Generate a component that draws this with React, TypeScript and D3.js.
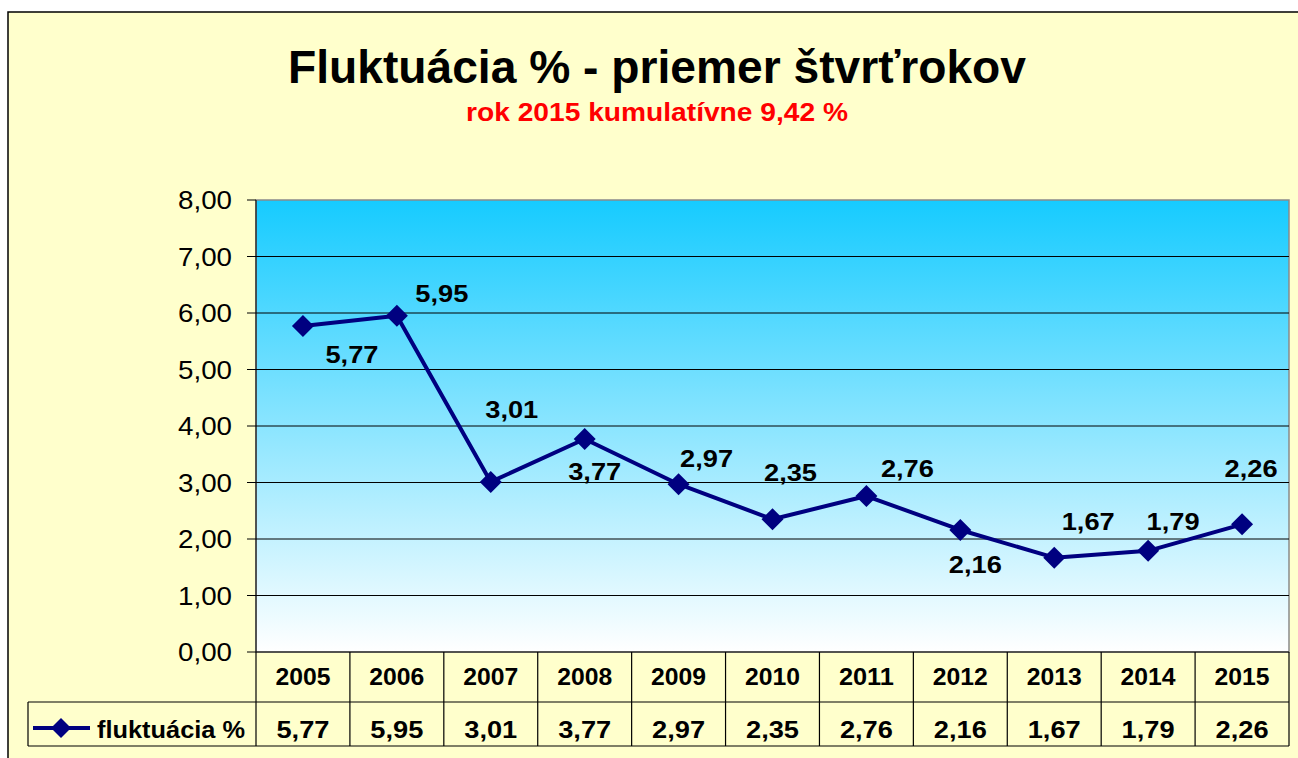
import * as d3 from "d3";

const years = ["2005", "2006", "2007", "2008", "2009", "2010", "2011", "2012", "2013", "2014", "2015"];
const fluktuacia = [5.77, 5.95, 3.01, 3.77, 2.97, 2.35, 2.76, 2.16, 1.67, 1.79, 2.26];
const yTicks = [0, 1, 2, 3, 4, 5, 6, 7, 8];
// manual data label placement (px offsets from the marker), as in the source workbook
const labelNudge: [number, number][] = [
  [49, 37], [45, -14], [21, -64], [10, 41], [28, -17], [18, -38],
  [41, -19], [15, 43], [34, -28], [25, -21], [9, -47],
];

const title = "Fluktuácia % - priemer štvrťrokov";
const subtitle = "rok 2015 kumulatívne 9,42 %";
const seriesName = "fluktuácia %";

const fmt = (v: number) => v.toFixed(2).replace(".", ",");

export default function App() {
  const W = 1298;
  const H = 758;
  const plot = { left: 256, right: 1289, top: 200, bottom: 652 };
  const rowH = [50, 44];
  const font = "Arial, 'Liberation Sans', sans-serif";

  const x = d3.scaleBand<string>().domain(years).range([plot.left, plot.right]);
  const y = d3.scaleLinear().domain([0, 8]).range([plot.bottom, plot.top]);
  const cx = (i: number) => (x(years[i]) as number) + x.bandwidth() / 2;

  const line = d3
    .line<number>()
    .x((_, i) => cx(i))
    .y((d) => y(d));

  const diamond = (px: number, py: number, r: number) =>
    `M${px},${py - r}L${px + r},${py}L${px},${py + r}L${px - r},${py}Z`;

  const row1 = plot.bottom + rowH[0];
  const row2 = row1 + rowH[1];

  return (
    <svg width={W} height={H} style={{ position: "absolute", left: 0, top: 0 }} fontFamily={font}>
      <defs>
        <linearGradient id="bg" x1="0" y1="0" x2="0" y2="1">
          <stop offset="0" stopColor="#16cbff" />
          <stop offset="1" stopColor="#ffffff" />
        </linearGradient>
      </defs>
      <rect x={0} y={0} width={W} height={H} fill="#fff" />
      <rect x={8} y={12} width={W + 10} height={H} fill="#ffffcc" stroke="#000" strokeWidth={1.5} />

      <text x={657} y={83} textAnchor="middle" fontSize={46} fontWeight="bold" textLength={738} lengthAdjust="spacingAndGlyphs">
        {title}
      </text>
      <text x={657} y={121} textAnchor="middle" fontSize={25} fontWeight="bold" fill="#ff0000" textLength={382} lengthAdjust="spacingAndGlyphs">
        {subtitle}
      </text>

      {/* plot area */}
      <rect x={plot.left} y={plot.top} width={plot.right - plot.left} height={plot.bottom - plot.top} fill="url(#bg)" stroke="#8a8a8a" strokeWidth={1.5} />
      {yTicks.map((t) => (
        <g key={t}>
          {t > 0 && t < 8 && (
            <line x1={plot.left} x2={plot.right} y1={y(t)} y2={y(t)} stroke="#000" strokeWidth={1} />
          )}
          <line x1={plot.left - 9} x2={plot.left} y1={y(t)} y2={y(t)} stroke="#000" strokeWidth={1} />
          <text x={232} y={y(t) + 9} textAnchor="end" fontSize={25} textLength={54} lengthAdjust="spacingAndGlyphs">
            {fmt(t)}
          </text>
        </g>
      ))}
      <line x1={plot.left} x2={plot.left} y1={plot.top} y2={plot.bottom} stroke="#000" strokeWidth={1} />

      {/* data table */}
      <g stroke="#000" strokeWidth={1.2} fill="none">
        <line x1={plot.left} x2={plot.right} y1={plot.bottom} y2={plot.bottom} />
        <line x1={28} x2={plot.right} y1={row1} y2={row1} />
        <line x1={28} x2={plot.right} y1={row2} y2={row2} />
        <line x1={28} x2={28} y1={row1} y2={row2} />
        {years.map((yr) => (
          <line key={yr} x1={x(yr)} x2={x(yr)} y1={plot.bottom} y2={row2} />
        ))}
        <line x1={plot.right} x2={plot.right} y1={plot.bottom} y2={row2} />
      </g>
      {years.map((yr, i) => (
        <g key={yr} fontWeight="bold" fontSize={23} textAnchor="middle">
          <text x={cx(i)} y={row1 - 17} textLength={55} lengthAdjust="spacingAndGlyphs">{yr}</text>
          <text x={cx(i)} y={row2 - 8} textLength={53} lengthAdjust="spacingAndGlyphs">{fmt(fluktuacia[i])}</text>
        </g>
      ))}
      <line x1={33} x2={90} y1={row1 + 26} y2={row1 + 26} stroke="#000080" strokeWidth={4} />
      <path d={diamond(61, row1 + 26, 10)} fill="#000080" />
      <text x={97} y={row2 - 8} fontSize={23} fontWeight="bold" textLength={148} lengthAdjust="spacingAndGlyphs">
        {seriesName}
      </text>

      {/* series */}
      <path d={line(fluktuacia) ?? ""} fill="none" stroke="#000080" strokeWidth={4} strokeLinejoin="round" />
      {fluktuacia.map((v, i) => (
        <path key={i} d={diamond(cx(i), y(v), 11)} fill="#000080" />
      ))}
      {fluktuacia.map((v, i) => (
        <text
          key={i}
          x={cx(i) + labelNudge[i][0]}
          y={y(v) + labelNudge[i][1]}
          textAnchor="middle"
          fontSize={24}
          fontWeight="bold"
          textLength={53}
          lengthAdjust="spacingAndGlyphs"
        >
          {fmt(v)}
        </text>
      ))}
    </svg>
  );
}
